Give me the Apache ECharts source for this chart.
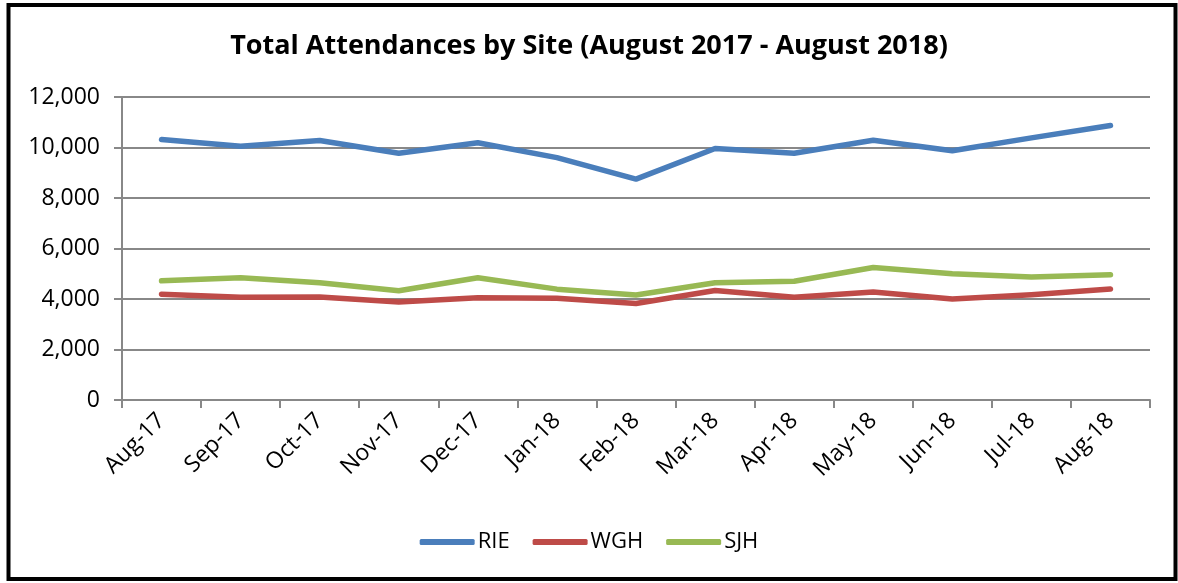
<!DOCTYPE html>
<html>
<head>
<meta charset="utf-8">
<script src="https://cdn.jsdelivr.net/npm/echarts@6/dist/echarts.min.js"></script>
<style>
html,body{margin:0;padding:0;background:#fff;}
#c{width:1178px;height:583px;}
</style>
</head>
<body>
<div id="c"></div>
<script>
const categories = ["Aug-17","Sep-17","Oct-17","Nov-17","Dec-17","Jan-18","Feb-18","Mar-18","Apr-18","May-18","Jun-18","Jul-18","Aug-18"];
const rie = [10320, 10050, 10280, 9770, 10190, 9600, 8750, 9960, 9770, 10290, 9870, 10380, 10870];
const wgh = [4190, 4070, 4080, 3880, 4050, 4030, 3820, 4340, 4070, 4280, 4000, 4170, 4400];
const sjh = [4720, 4840, 4640, 4330, 4840, 4390, 4160, 4640, 4700, 5250, 5000, 4870, 4960];
const yTicks = [0, 2000, 4000, 6000, 8000, 10000, 12000];

const FONT = "'Open Sans', 'Liberation Sans', sans-serif";
const chart = echarts.init(document.getElementById('c'), null, {renderer: 'canvas'});
chart.setOption({
  animation: false,
  backgroundColor: '#fff',
  title: {
    text: 'Total Attendances by Site (August 2017 - August 2018)',
    left: 'center', top: 28,
    textStyle: {fontFamily: FONT, fontSize: 27, fontWeight: 'bold', color: '#000'}
  },
  graphic: [{
    type: 'rect', shape: {x: 8.5, y: 5, width: 1167, height: 574},
    style: {fill: 'none', stroke: '#000', lineWidth: 4}, silent: true, z: 100
  }],
  grid: {left: 122, right: 28, top: 97, bottom: 183, containLabel: false},
  legend: {
    bottom: 25, left: 'center', itemWidth: 55, itemHeight: 6, itemGap: 23,
    icon: 'roundRect',
    textStyle: {fontFamily: FONT, fontSize: 22, color: '#000', padding: [0,0,0,-2]},
    data: ['RIE','WGH','SJH']
  },
  xAxis: {
    type: 'category', data: categories, boundaryGap: true,
    axisLine: {lineStyle: {color: '#888', width: 2}},
    axisTick: {show: true, length: 8, lineStyle: {color: '#888', width: 2}},
    axisLabel: {rotate: 45, margin: 17, fontFamily: FONT, fontSize: 23, color: '#000'}
  },
  yAxis: {
    type: 'value', min: yTicks[0], max: yTicks[yTicks.length-1], interval: 2000,
    axisLine: {show: true, lineStyle: {color: '#888', width: 2}},
    axisTick: {show: true, length: 8, lineStyle: {color: '#888', width: 2}},
    splitLine: {lineStyle: {color: '#888', width: 2}},
    axisLabel: {margin: 22, fontFamily: FONT, fontSize: 23, color: '#000',
      formatter: v => v.toLocaleString('en-US')}
  },
  series: [
    {name: 'RIE', type: 'line', data: rie, symbol: 'none', color: '#4A7EBB', lineStyle: {width: 5.5, cap: 'round', join: 'round'}},
    {name: 'WGH', type: 'line', data: wgh, symbol: 'none', color: '#BE4B48', lineStyle: {width: 5.5, cap: 'round', join: 'round'}},
    {name: 'SJH', type: 'line', data: sjh, symbol: 'none', color: '#98B954', lineStyle: {width: 5.5, cap: 'round', join: 'round'}}
  ]
});
</script>
</body>
</html>
